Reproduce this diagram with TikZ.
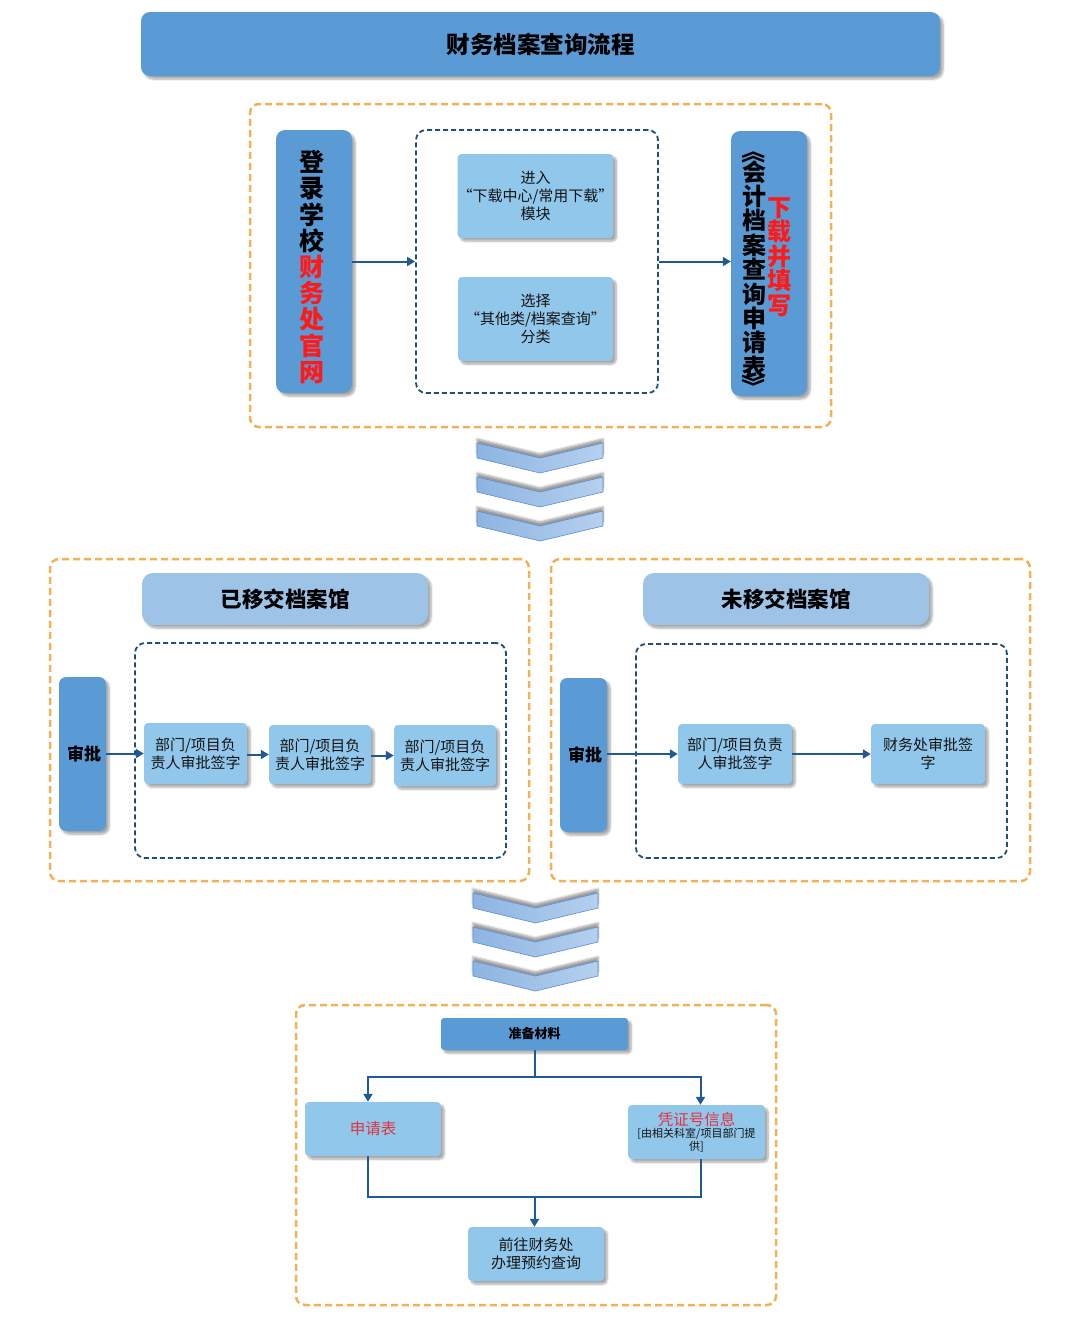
\documentclass[tikz,border=0pt]{standalone}
\usepackage{fontspec}
\usepackage{graphicx}
\setmainfont{Noto Sans CJK SC}
\usetikzlibrary{arrows.meta,shadows.blur}
\definecolor{dblue}{HTML}{5B9BD5}
\definecolor{lblue}{HTML}{91C7EA}
\definecolor{hblue}{HTML}{9DC3E6}
\definecolor{orng}{HTML}{F2B155}
\definecolor{navy}{HTML}{1F4E79}
\definecolor{arrc}{HTML}{1F5B92}
\definecolor{redt}{HTML}{FF1A1A}
\definecolor{redb}{HTML}{E5323D}
\definecolor{txt}{HTML}{141414}
\definecolor{chl}{HTML}{8DB4E2}
\definecolor{chr}{HTML}{B6D0EE}
\definecolor{chs}{HTML}{5A8FD0}
\tikzset{
  shd/.style={blur shadow={shadow xshift=3pt,shadow yshift=-3pt,shadow blur steps=6,shadow opacity=35}},
  dbox/.style={fill=dblue,rounded corners=9pt,shd,inner sep=0pt,text=black,align=center},
  lbox/.style={fill=lblue,rounded corners=4pt,shd,inner sep=0pt,text=txt,align=center,font=\fontsize{15}{18}\selectfont},
  hbox/.style={fill=hblue,rounded corners=11pt,shd,inner sep=0pt,text=black,font=\fontsize{21.5}{24}\selectfont\bfseries},
  obox/.style={draw=orng,line width=2.5pt,dash pattern=on 7pt off 4pt,rounded corners=9pt,inner sep=0pt},
  nbox/.style={draw=navy,line width=1.8pt,dash pattern=on 5pt off 3pt,rounded corners=10pt,inner sep=0pt},
  conn/.style={draw=arrc,line width=2pt,-{Triangle[length=8pt,width=9pt]}},
  line/.style={draw=arrc,line width=2pt},
  vtext/.style={align=center,inner sep=0pt,font=\fontsize{24}{24.4}\selectfont\bfseries},
  chev/.style={left color=chl,right color=chr,draw=chs,line width=0.6pt,
    blur shadow={shadow xshift=0pt,shadow yshift=4pt,shadow blur steps=6,shadow opacity=40}}
}
\begin{document}
\begin{tikzpicture}[x=1pt,y=-1pt]
\useasboundingbox (0,0) rectangle (1080,1333);
% title
\node[dbox,minimum width=799pt,minimum height=64pt,font=\fontsize{23.5}{26}\selectfont\bfseries] (title) at (540.5,44) {财务档案查询流程};
% top section
\node[obox,minimum width=581pt,minimum height=323pt] (o1) at (540.5,265.5) {};
\node[dbox,minimum width=76pt,minimum height=263pt] (login) at (314,261.5) {};
\node[vtext,font=\fontsize{25}{26.2}\selectfont\bfseries] (logint) at (312,267)
  {登\\录\\学\\校\\\textcolor{redt}{财}\\\textcolor{redt}{务}\\\textcolor{redt}{处}\\\textcolor{redt}{官}\\\textcolor{redt}{网}};
\node[nbox,minimum width=242pt,minimum height=263pt] (n1) at (537,261.5) {};
\node[lbox,minimum width=155pt,minimum height=84pt] (m1) at (535.5,196) {进入\\“下载中心/常用下载”\\模块};
\node[lbox,minimum width=155pt,minimum height=84pt] (m2) at (535.5,319) {选择\\“其他类/档案查询”\\分类};
\node[dbox,minimum width=76pt,minimum height=265pt] (form) at (769,263.5) {};
\node[vtext] (formt) at (754,269.5)
  {会\\计\\档\\案\\查\\询\\申\\请\\表};
\node[inner sep=0pt,font=\fontsize{24}{24}\selectfont\bfseries] (lq) at (754,151) {\rotatebox[origin=c]{-90}{《}};
\node[inner sep=0pt,font=\fontsize{24}{24}\selectfont\bfseries] (rq) at (754,386) {\rotatebox[origin=c]{-90}{》}};
\node[vtext,font=\fontsize{24}{24.5}\selectfont\bfseries,text=redt] (formr) at (779.5,257)
  {下\\载\\并\\填\\写};
\draw[conn] (login.east) -- (n1.west);
\draw[conn] (n1.east) -- (n1.east -| form.west);
% chevrons 1
\foreach \y in {443,477,511}{
  \path[chev] (477,\y) -- (540,\y+15) -- (603,\y) -- (603,\y+15) -- (540,\y+30) -- (477,\y+15) -- cycle;
}
% middle left
\node[obox,minimum width=479pt,minimum height=322pt] (o2) at (289.5,720) {};
\node[hbox,minimum width=286pt,minimum height=52pt] (h1) at (285,599) {已移交档案馆};
\node[nbox,minimum width=371pt,minimum height=215pt] (n2) at (320.5,750.5) {};
\node[dbox,rounded corners=7pt,minimum width=47pt,minimum height=154pt,font=\fontsize{17}{18}\selectfont\bfseries] (sp1) at (82.5,754) {\hspace*{3pt}审批};
\node[lbox,minimum width=103pt,minimum height=61pt] (b1) at (195.5,753.5) {部门/项目负\\责人审批签字};
\node[lbox,minimum width=102pt,minimum height=59pt] (b2) at (320,754.5) {部门/项目负\\责人审批签字};
\node[lbox,minimum width=102pt,minimum height=61pt] (b3) at (445,755.5) {部门/项目负\\责人审批签字};
\draw[conn] (sp1.east |- b1.west) -- (b1.west);
\draw[conn] (b1.east |- b2.west) -- (b2.west);
\draw[conn] (b2.east |- b3.west) -- (b3.west);
% middle right
\node[obox,minimum width=479pt,minimum height=322pt] (o3) at (790.5,720) {};
\node[hbox,minimum width=286pt,minimum height=52pt] (h2) at (786,599) {未移交档案馆};
\node[nbox,minimum width=371pt,minimum height=214pt] (n3) at (821.5,751) {};
\node[dbox,rounded corners=7pt,minimum width=47pt,minimum height=154pt,font=\fontsize{17}{18}\selectfont\bfseries] (sp2) at (583.5,755) {\hspace*{3pt}审批};
\node[lbox,minimum width=114pt,minimum height=60pt] (ba) at (735,754) {部门/项目负责\\人审批签字};
\node[lbox,minimum width=114pt,minimum height=60pt] (bb) at (928,754) {财务处审批签\\字};
\draw[conn] (sp2.east |- ba.west) -- (ba.west);
\draw[conn] (ba.east |- bb.west) -- (bb.west);
% chevrons 2
\foreach \y in {893,927,961}{
  \path[chev] (473,\y) -- (535.5,\y+15) -- (598,\y) -- (598,\y+15) -- (535.5,\y+30) -- (473,\y+15) -- cycle;
}
% bottom
\node[obox,minimum width=480pt,minimum height=300pt] (o4) at (536,1155) {};
\node[dbox,rounded corners=3pt,minimum width=187pt,minimum height=32pt,font=\fontsize{13}{15}\selectfont\bfseries] (zb) at (534.5,1034) {准备材料};
\node[lbox,minimum width=136pt,minimum height=54pt,text=redb,font=\fontsize{15.5}{18}\selectfont] (sq) at (373,1129) {申请表};
\node[lbox,minimum width=137pt,minimum height=54pt,font=\fontsize{11}{13}\selectfont] (pz) at (696.5,1132)
  {\textcolor{redb}{\fontsize{15.5}{17}\selectfont 凭证号信息}\\[-1pt][由相关科室/项目部门提\\供]};
\node[lbox,minimum width=136pt,minimum height=54pt] (qw) at (536,1254) {前往财务处\\办理预约查询};
\coordinate (j1) at (534.5,1077);
\coordinate (j2) at (534.5,1197);
\draw[line] (zb.south) -- (j1);
\draw[conn] (j1) -| ([xshift=-5pt]sq.north);
\draw[conn] (j1) -| ([xshift=4pt]pz.north);
\draw[line] ([xshift=-5pt]sq.south) |- (j2) -| ([xshift=4pt]pz.south);
\draw[conn] (j2) -- (qw.north -| j2);
\end{tikzpicture}
\end{document}
